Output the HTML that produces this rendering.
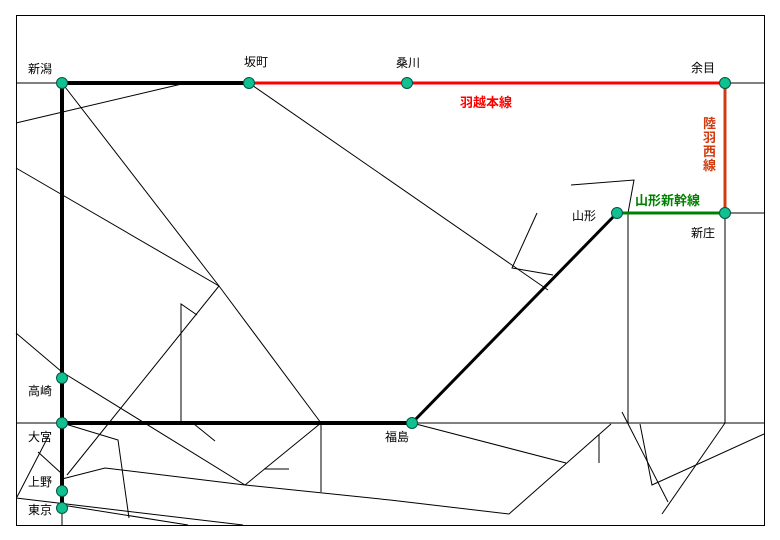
<!DOCTYPE html>
<html><head><meta charset="utf-8"><style>
html,body{margin:0;padding:0;background:#fff;}
svg{display:block;}
text{font-family:"Liberation Sans","Noto Sans CJK JP",sans-serif;font-size:12px;fill:#000;}
.b{font-weight:bold;font-size:13px;}
</style></head><body>
<svg width="780" height="540" viewBox="0 0 780 540" xmlns="http://www.w3.org/2000/svg">
<rect x="16.5" y="15.5" width="748" height="510" fill="#fff" stroke="#000" stroke-width="1"/>
<g stroke="#000" stroke-width="1" fill="none">
<line x1="16" y1="83" x2="62" y2="83"/>
<line x1="725" y1="83" x2="764" y2="83"/>
<line x1="16" y1="123" x2="186" y2="83"/>
<polyline points="62,83 219,286 321,423"/>
<polyline points="16,168 219,286 67,475"/>
<polyline points="249,83 548,290"/>
<polyline points="537,213 512,268 553,275"/>
<polyline points="571,185 634,180 628,213 628,423"/>
<line x1="725" y1="213" x2="725" y2="423"/>
<line x1="725" y1="213" x2="764" y2="213"/>
<line x1="16" y1="423" x2="62" y2="423"/>
<line x1="412" y1="423" x2="764" y2="423"/>
<polyline points="16,333 62,372 245,485 321,423"/>
<line x1="264" y1="469" x2="289" y2="469"/>
<polyline points="197,315 181,304 181,423"/>
<line x1="194" y1="424" x2="215" y2="441"/>
<polyline points="62,423 118,440 129,518"/>
<line x1="38" y1="452" x2="61" y2="473"/>
<polyline points="62,479 105,468 245,485 390,500 509,514 611,424"/>
<line x1="321" y1="423" x2="321" y2="492"/>
<line x1="599" y1="435" x2="599" y2="463"/>
<line x1="412" y1="423" x2="566" y2="463"/>
<line x1="17" y1="497" x2="48" y2="437"/>
<line x1="16" y1="498" x2="243" y2="525"/>
<line x1="62" y1="505" x2="188" y2="525"/>
<line x1="62" y1="508" x2="62" y2="525"/>
<line x1="622" y1="412" x2="668" y2="502"/>
<polyline points="640,424 652,485 764,434"/>
<line x1="725" y1="423" x2="662" y2="514"/>
</g>
<g fill="none">
<polyline points="62,83 249,83" stroke="#000" stroke-width="4"/>
<polyline points="62,83 62,508" stroke="#000" stroke-width="4"/>
<polyline points="62,423 412,423" stroke="#000" stroke-width="4"/>
<polyline points="412,423 617,213" stroke="#000" stroke-width="3"/>
<polyline points="249,83 725,83" stroke="#ff0000" stroke-width="3"/>
<polyline points="725,83 725,213" stroke="#d03c10" stroke-width="3"/>
<polyline points="617,213 725,213" stroke="#008000" stroke-width="3"/>
</g>
<g fill="#10c090" stroke="#054" stroke-width="1">
<circle cx="62" cy="83" r="5.5"/><circle cx="249" cy="83" r="5.5"/>
<circle cx="407" cy="83" r="5.5"/><circle cx="725" cy="83" r="5.5"/>
<circle cx="725" cy="213" r="5.5"/><circle cx="617" cy="213" r="5.5"/>
<circle cx="412" cy="423" r="5.5"/><circle cx="62" cy="423" r="5.5"/>
<circle cx="62" cy="378" r="5.5"/><circle cx="62" cy="491" r="5.5"/>
<circle cx="62" cy="508" r="5.5"/>
</g>
<text x="28" y="73">新潟</text>
<text x="244" y="66">坂町</text>
<text x="396" y="67">桑川</text>
<text x="691" y="72">余目</text>
<text x="691" y="237">新庄</text>
<text x="572" y="220">山形</text>
<text x="385" y="441">福島</text>
<text x="28" y="395">高崎</text>
<text x="28" y="441">大宮</text>
<text x="28" y="486">上野</text>
<text x="28" y="514">東京</text>
<text class="b" x="460" y="107" style="fill:#ff0000">羽越本線</text>
<text class="b" x="635" y="205" style="fill:#008000">山形新幹線</text>
<text class="b" x="703" y="128" style="fill:#d03c10">陸</text>
<text class="b" x="703" y="142" style="fill:#d03c10">羽</text>
<text class="b" x="703" y="156" style="fill:#d03c10">西</text>
<text class="b" x="703" y="170" style="fill:#d03c10">線</text>
</svg>
</body></html>
